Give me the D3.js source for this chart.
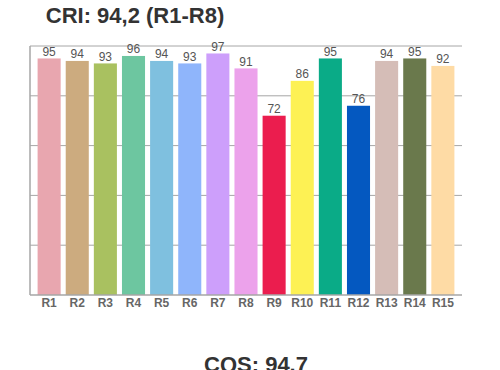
<!DOCTYPE html>
<html>
<head>
<meta charset="utf-8">
<script src="https://cdn.jsdelivr.net/npm/d3@7"></script>
<style>
html,body{margin:0;padding:0;background:#fff;}
svg{display:block;font-family:"Liberation Sans",Arial,sans-serif;}
</style>
</head>
<body>
<svg id="chart" width="500" height="370"></svg>
<script>
const categories = ["R1","R2","R3","R4","R5","R6","R7","R8","R9","R10","R11","R12","R13","R14","R15"];
const values = [95,94,93,96,94,93,97,91,72,86,95,76,94,95,92];
const barColors = ["#e8a6af","#ccab7f","#a9c160","#6dc6a0","#7fc0df","#8fb5fb","#cd9ffb","#eca2eb","#eb1d4e","#fdf154","#0aab87","#0458c0","#d5bdb7","#6a794c","#fedba5"];
const yTicks = [0,20,40,60,80,100];
const titleText = "CRI: 94,2 (R1-R8)";
const footerText = "CQS: 94.7";

(function () {
const svg = d3.select("#chart");
const mLeft = 30, mRight = 462, mTop = 46, mBottom = 295;

const x = d3.scaleBand().domain(categories).range([mLeft, mRight]).paddingInner(0.18).paddingOuter(0.27);
const y = d3.scaleLinear().domain([0, 100]).range([mBottom, mTop]);

// gridlines
svg.append("g").selectAll("line").data(yTicks.filter(d => d > 0)).join("line")
  .attr("x1", mLeft).attr("x2", mRight)
  .attr("y1", d => y(d)).attr("y2", d => y(d))
  .attr("stroke", "#a6a6a6").attr("stroke-width", 1);

// bars
svg.append("g").selectAll("rect").data(values).join("rect")
  .attr("x", (d, i) => x(categories[i]))
  .attr("width", x.bandwidth())
  .attr("y", d => y(d))
  .attr("height", d => y(0) - y(d))
  .attr("fill", (d, i) => barColors[i]);

// axes lines
svg.append("line").attr("x1", mLeft).attr("x2", mLeft).attr("y1", mTop).attr("y2", mBottom)
  .attr("stroke", "#a6a6a6").attr("stroke-width", 1.5);
svg.append("line").attr("x1", mLeft).attr("x2", mRight).attr("y1", mBottom).attr("y2", mBottom)
  .attr("stroke", "#a6a6a6").attr("stroke-width", 1.5);

// value labels
svg.append("g").selectAll("text").data(values).join("text")
  .attr("x", (d, i) => x(categories[i]) + x.bandwidth() / 2)
  .attr("y", d => y(d) - 2.5)
  .attr("text-anchor", "middle")
  .attr("font-size", 12)
  .attr("fill", "#555")
  .text(d => d);

// x labels
const xAxis = d3.axisBottom(x).tickSize(0).tickPadding(3);
const gx = svg.append("g").attr("transform", `translate(0,${mBottom})`).call(xAxis);
gx.attr("font-size", 12).attr("font-family", "Liberation Sans, Arial, sans-serif");
gx.select(".domain").remove();
gx.selectAll("text")
  .attr("font-size", 12)
  .attr("font-weight", "bold")
  .attr("fill", "#666");

// title
svg.append("text").attr("x", 135).attr("y", 23)
  .attr("text-anchor", "middle").attr("font-size", 22).attr("font-weight", "bold")
  .attr("fill", "#333").text(titleText);

svg.append("text").attr("x", 256).attr("y", 372)
  .attr("text-anchor", "middle").attr("font-size", 22).attr("font-weight", "bold")
  .attr("fill", "#333").text(footerText);
})();
</script>
</body>
</html>
